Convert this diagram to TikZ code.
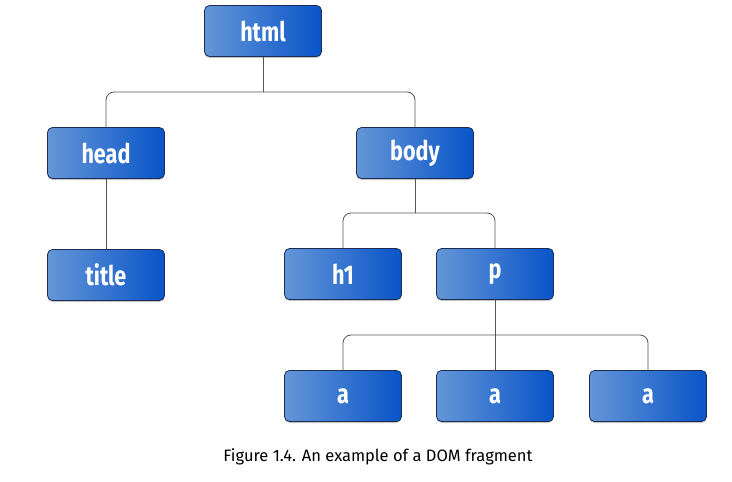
\documentclass[tikz,border=0pt]{standalone}
\usepackage{fontspec}
\setmainfont{Fira Sans}
\newfontfamily\boxfont[FakeStretch=0.8]{Fira Sans}
\newfontfamily\capfont{Fira Sans}
\usetikzlibrary{shadows}
\definecolor{boxleft}{RGB}{100,150,215}
\definecolor{boxright}{RGB}{8,84,200}
\definecolor{boxedge}{RGB}{28,45,85}
\definecolor{linecol}{RGB}{85,85,85}
\tikzset{
  dom/.style={rectangle, rounded corners=5pt, minimum width=117pt, minimum height=51pt,
    left color=boxleft, right color=boxright, draw=boxedge, line width=0.8pt,
    text=white, font=\boxfont\bfseries\fontsize{27}{30}\selectfont,
    drop shadow={shadow xshift=0pt, shadow yshift=-1.5pt, opacity=0.45}},
  conn/.style={draw=linecol, line width=0.8pt, rounded corners=8pt}
}
\begin{document}
\begin{tikzpicture}[x=1pt,y=1pt]
\useasboundingbox[fill=white] (0,0) rectangle (732,-482);
\node[dom] (html)  at (263,-31) {html};
\node[dom] (head)  at (106,-153) {head};
\node[dom] (body)  at (415,-153) {body};
\node[dom] (title) at (106,-275) {title};
\node[dom] (h1)    at (343,-274) {h1};
\node[dom] (p)     at (495,-274) {p};
\node[dom] (a1)    at (343,-396) {a};
\node[dom] (a2)    at (495,-396) {a};
\node[dom] (a3)    at (648,-396) {a};
\coordinate (j1) at (263,-92);
\coordinate (j2) at (415,-213);
\coordinate (j3) at (495,-335);
\draw[conn] (html.south) -- (j1);
\draw[conn] (head.north) |- (j1) -| (body.north);
\draw[conn] (head.south) -- (title.north);
\draw[conn] (body.south) -- (j2);
\draw[conn] (h1.north) |- (j2) -| (p.north);
\draw[conn] (p.south) -- (a2.north);
\draw[conn] (a1.north) |- (j3) -| (a3.north);
\node[font=\capfont\fontsize{16.5}{19}\selectfont, text=black] (cap) at (378,-457) {Figure 1.4. An example of a DOM fragment};
\end{tikzpicture}
\end{document}
